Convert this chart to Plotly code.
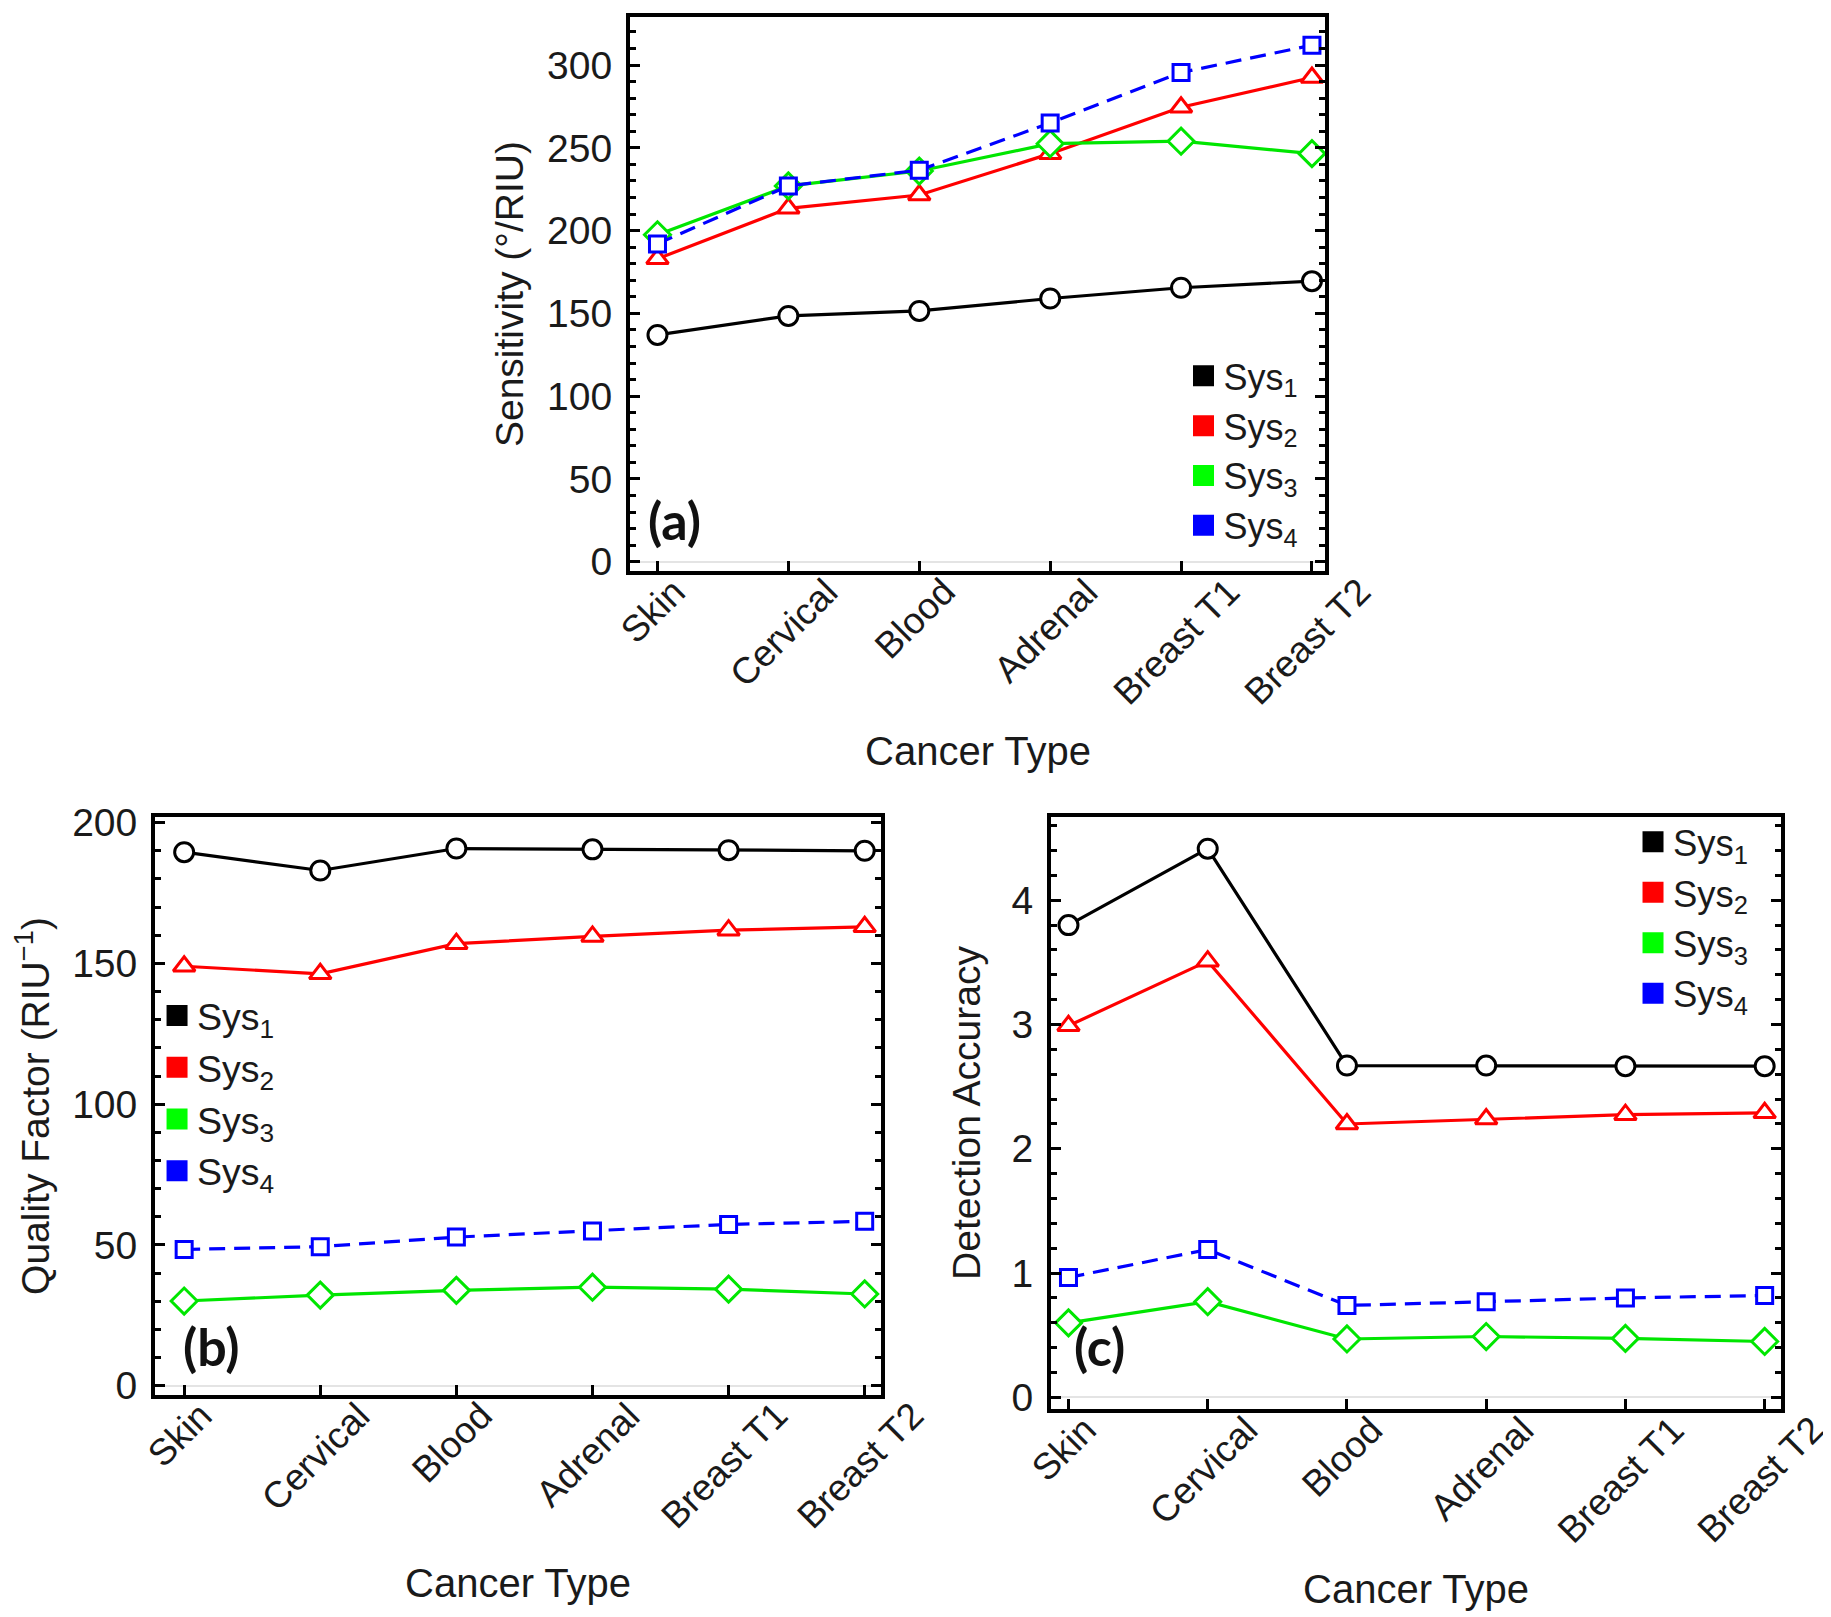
import plotly.graph_objects as go

categories = ["Skin", "Cervical", "Blood", "Adrenal", "Breast T1", "Breast T2"]
series_names = ["Sys<sub>1</sub>", "Sys<sub>2</sub>", "Sys<sub>3</sub>", "Sys<sub>4</sub>"]

# Panel (a): Sensitivity (deg/RIU)
sens_sys1 = [137, 148.5, 151.5, 159, 165.5, 169.5]
sens_sys2 = [183, 213.5, 221.5, 246.5, 274.5, 292.5]
sens_sys3 = [197.5, 227, 236, 252.5, 254, 246.5]
sens_sys4 = [192, 227, 236.5, 265, 295.5, 312]

# Panel (b): Quality factor (1/RIU)
qf_sys1 = [189.5, 183, 190.8, 190.5, 190.2, 190]
qf_sys2 = [149, 146.3, 157, 159.6, 161.8, 163]
qf_sys3 = [30.1, 32.2, 33.9, 35, 34.3, 32.6]
qf_sys4 = [48.4, 49.4, 52.8, 55, 57.3, 58.4]

# Panel (c): Detection accuracy
da_sys1 = [3.80, 4.415, 2.67, 2.67, 2.665, 2.665]
da_sys2 = [2.99, 3.51, 2.20, 2.24, 2.275, 2.29]
da_sys3 = [0.60, 0.77, 0.47, 0.49, 0.475, 0.45]
da_sys4 = [0.965, 1.19, 0.74, 0.77, 0.80, 0.82]

colors = ["#000000", "#ff0000", "#00e600", "#0000ff"]
legend_colors = ["#000000", "#ff0000", "#00ff00", "#0000ff"]
symbols = ["circle", "triangle-up", "diamond", "square"]
msizes = [19, 19, 20, 16]
dashes = ["solid", "solid", "solid", "16px,9px"]

FONT = "Liberation Sans, Arial, sans-serif"
TXT = "#1a1a1a"

fig = go.Figure()

panels = [
    ("x", "y", [sens_sys1, sens_sys2, sens_sys3, sens_sys4], "legend"),
    ("x2", "y2", [qf_sys1, qf_sys2, qf_sys3, qf_sys4], "legend2"),
    ("x3", "y3", [da_sys1, da_sys2, da_sys3, da_sys4], "legend3"),
]

for xa, ya, data, leg in panels:
    for i, vals in enumerate(data):
        fig.add_trace(go.Scatter(
            x=categories, y=vals, xaxis=xa, yaxis=ya, mode="lines+markers",
            line=dict(color=colors[i], width=3.2, dash=dashes[i]),
            marker=dict(symbol=symbols[i], size=msizes[i], color="white",
                        line=dict(color=colors[i], width=3)),
            showlegend=False, hoverinfo="skip",
        ))
    for i, name in enumerate(series_names):
        fig.add_trace(go.Scatter(
            x=[None], y=[None], xaxis=xa, yaxis=ya, mode="markers", name=name,
            marker=dict(symbol="square", size=16, color=legend_colors[i],
                        line=dict(color=legend_colors[i], width=5)),
            legend=leg, showlegend=True,
        ))

def xaxis_cfg(domain, rng, ya):
    return dict(
        domain=domain, type="category", range=rng, categoryorder="array", anchor=ya,
        categoryarray=categories, showline=True, linecolor="black", linewidth=4,
        mirror=True, ticks="inside", ticklen=10, tickwidth=3, tickcolor="black",
        showticklabels=False, showgrid=False, zeroline=False, automargin=False,
    )

def yaxis_cfg(domain, rng, dtick, minor, title, xa, standoff):
    return dict(
        domain=domain, range=rng, dtick=dtick, tick0=0, anchor=xa,
        showline=True, linecolor="black", linewidth=4, mirror="ticks",
        ticks="inside", ticklen=10, tickwidth=3, tickcolor="black",
        minor=dict(ticks="inside", dtick=minor, ticklen=6, tickwidth=2.5, tickcolor="black", showgrid=False),
        showgrid=False, zeroline=True, zerolinecolor="#e4e4e4", zerolinewidth=2,
        tickfont=dict(family=FONT, size=39, color=TXT), ticklabelstandoff=6,
        title=dict(text=title, font=dict(family=FONT, size=39, color=TXT), standoff=standoff),
        automargin=False,
    )

fig.update_layout(
    width=1831, height=1617, margin=dict(l=0, r=0, t=0, b=0),
    paper_bgcolor="white", plot_bgcolor="white",
    xaxis=xaxis_cfg([0.3397, 0.7193], [-0.21, 5.1], "y"),
    yaxis=yaxis_cfg([0.6518, 0.9944], [-5.6, 329], 50, 10, "Sensitivity (°/RIU)", "x", 12),
    xaxis2=xaxis_cfg([0.0803, 0.4768], [-0.214, 5.12], "y2"),
    yaxis2=yaxis_cfg([0.1422, 0.4997], [-3.3, 202], 50, 10, "Quality Factor (RIU<sup>−1</sup>)", "x2", 12),
    xaxis3=xaxis_cfg([0.5696, 0.9683], [-0.126, 5.117], "y3"),
    yaxis3=yaxis_cfg([0.1336, 0.4997], [-0.093, 4.67], 1, 0.2, "Detection Accuracy", "x3", 20),
)

legend_common = dict(bgcolor="rgba(0,0,0,0)", xanchor="left", yanchor="top",
                     tracegroupgap=0, itemwidth=30)
fig.update_layout(
    legend=dict(x=0.642, y=0.791, font=dict(family=FONT, size=36, color=TXT), **legend_common),
    legend2=dict(x=0.0814, y=0.396, font=dict(family=FONT, size=37.5, color=TXT), **legend_common),
    legend3=dict(x=0.8875, y=0.503, font=dict(family=FONT, size=36.5, color=TXT), **legend_common),
)

annotations = []
axis_pairs = [
    ("x", "y", "(a)", 0.064, 0.092, -180),
    ("x2", "y2", "(b)", 0.078, 0.085, -188),
    ("x3", "y3", "(c)", 0.067, 0.106, -180),
]
for xa, ya, lab, lx, ly, tshift in axis_pairs:
    for c in categories:
        annotations.append(dict(
            text=c, x=c, xref=xa, y=0, yref=f"{ya} domain", xanchor="center", yanchor="top",
            xshift=-4, yshift=3, textangle=-45, showarrow=False,
            font=dict(family=FONT, size=37, color=TXT),
        ))
    annotations.append(dict(
        text="Cancer Type", x=0.5, xref=f"{xa} domain", y=0, yref=f"{ya} domain",
        xanchor="center", yanchor="middle", yshift=tshift, showarrow=False,
        font=dict(family=FONT, size=40, color=TXT),
    ))
    annotations.append(dict(
        text=f"<b>{lab}</b>", x=lx, xref=f"{xa} domain", y=ly, yref=f"{ya} domain",
        xanchor="center", yanchor="middle", showarrow=False,
        font=dict(family="Lato, Open Sans, sans-serif", size=52, color="#111111"),
    ))
fig.update_layout(annotations=annotations)

fig.write_html("out.html")
